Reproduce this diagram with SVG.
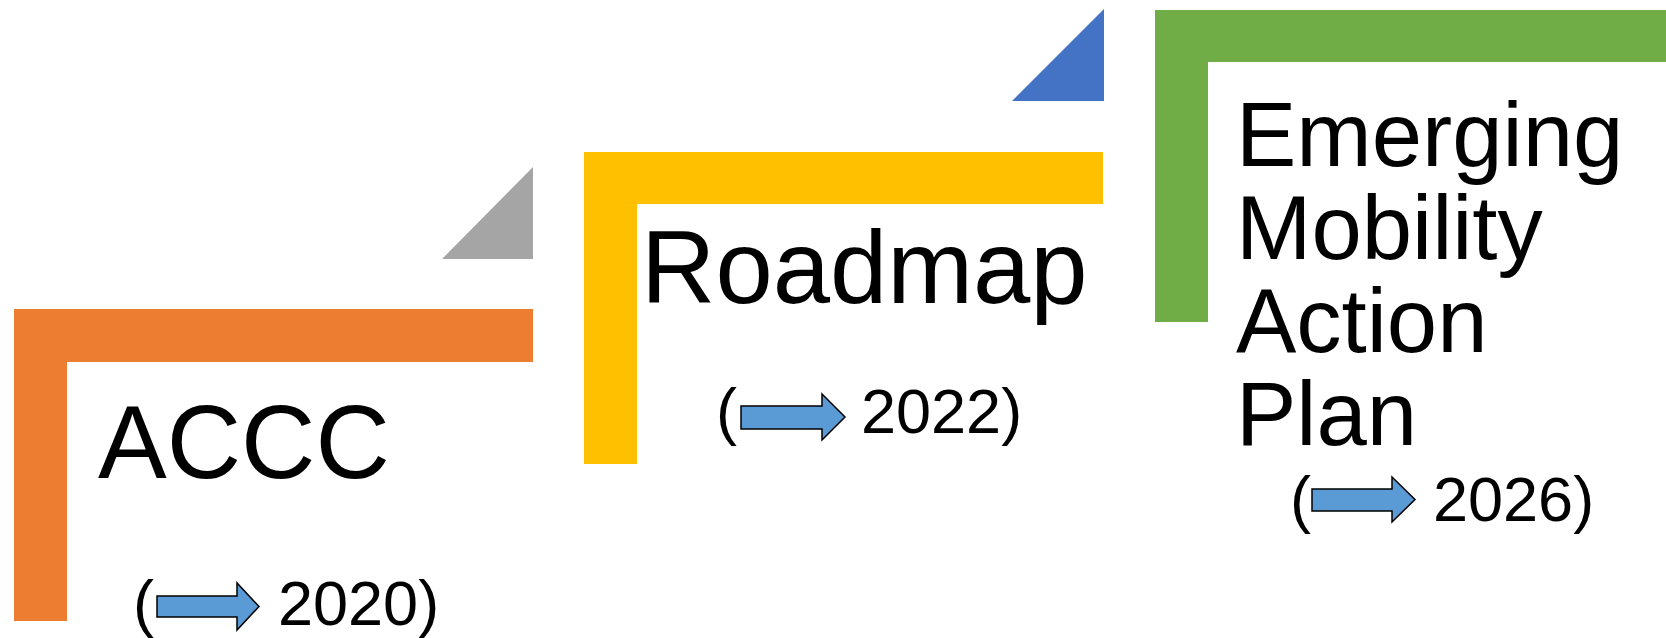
<svg xmlns="http://www.w3.org/2000/svg" width="1666" height="638" viewBox="0 0 1666 638">
<defs>
<style>
.t{font-family:"Liberation Sans",Arial,sans-serif;fill:#000}
.big{font-size:103px}
.em{font-size:90.5px}
.yr{font-size:63px}
.arr{fill:#5B9BD5;stroke:#000;stroke-width:1.5;stroke-linejoin:miter}
</style>
</defs>
<rect width="1666" height="638" fill="#fff"/>
<g id="tri-gray"><polygon points="442,259 533,259 533,167" fill="#A5A5A5"/></g>
<g id="tri-blue"><polygon points="1012,101 1104,101 1104,9" fill="#4472C4"/></g>
<g id="accc">
<polygon points="14,309 533,309 533,362 67,362 67,621 14,621" fill="#ED7D31"/>
<text class="t big" x="98" y="478">ACCC</text>
<text class="t yr" x="133" y="625">(</text>
<polygon class="arr" points="157,596 237,596 237,583 259,606.5 237,630 237,617 157,617"/>
<text class="t yr" x="278" y="625">2020)</text>
</g>
<g id="roadmap">
<polygon points="584,152 1103,152 1103,204 637,204 637,464 584,464" fill="#FFC000"/>
<text class="t big" x="641" y="303">Roadmap</text>
<text class="t yr" x="716" y="433">(</text>
<polygon class="arr" points="741,406 822,406 822,394 845,417 822,440 822,429 741,429"/>
<text class="t yr" x="861" y="433">2022)</text>
</g>
<g id="emap">
<polygon points="1155,10 1666,10 1666,62 1208,62 1208,322 1155,322" fill="#70AD47"/>
<text class="t em" x="1236" y="166">Emerging</text>
<text class="t em" x="1236" y="259">Mobility</text>
<text class="t em" x="1236" y="352">Action</text>
<text class="t em" x="1236" y="445">Plan</text>
<text class="t yr" x="1290" y="521">(</text>
<polygon class="arr" points="1312,489 1392,489 1392,477 1415,499.5 1392,522 1392,511 1312,511"/>
<text class="t yr" x="1433" y="521">2026)</text>
</g>
<g id="connectors"/>
</svg>
